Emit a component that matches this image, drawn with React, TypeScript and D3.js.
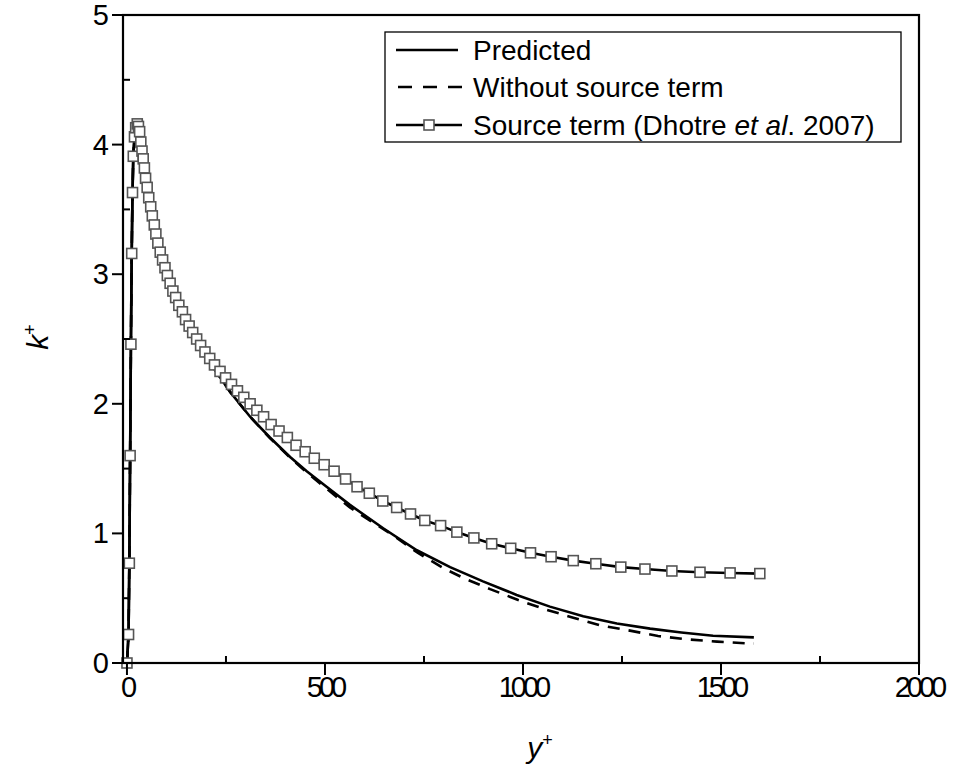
import React from "react";
import * as d3 from "d3";

// ---- data ----
const predX = [0, 4, 6, 8, 10, 12, 14, 16, 19, 22, 26, 30, 40, 60, 80, 100, 130, 160, 200, 261, 311, 361, 412, 454, 500, 563, 647, 732, 816, 899, 984, 1068, 1152, 1237, 1321, 1400, 1480, 1583];
const predY = [0, 0.22, 0.77, 1.6, 2.46, 3.16, 3.63, 3.91, 4.06, 4.13, 4.16, 4.12, 3.92, 3.52, 3.19, 2.99, 2.75, 2.56, 2.36, 2.09, 1.9, 1.74, 1.59, 1.48, 1.37, 1.22, 1.04, 0.87, 0.74, 0.63, 0.525, 0.435, 0.36, 0.305, 0.265, 0.235, 0.21, 0.198];

const noSrcX = [0, 4, 6, 8, 10, 12, 14, 16, 19, 22, 26, 30, 40, 60, 80, 100, 130, 160, 200, 261, 311, 361, 412, 454, 500, 563, 613, 672, 732, 800, 854, 917, 988, 1060, 1127, 1195, 1270, 1341, 1414, 1490, 1562, 1583];
const noSrcY = [0, 0.22, 0.77, 1.6, 2.46, 3.16, 3.63, 3.91, 4.06, 4.13, 4.16, 4.12, 3.92, 3.52, 3.19, 2.99, 2.75, 2.56, 2.36, 2.09, 1.9, 1.735, 1.585, 1.47, 1.355, 1.2, 1.1, 0.985, 0.855, 0.73, 0.65, 0.57, 0.486, 0.41, 0.35, 0.29, 0.25, 0.208, 0.183, 0.165, 0.152, 0.15];

const srcX = [0, 4, 6, 8, 10, 12, 14, 16, 19, 22, 26, 29, 32, 35, 38, 41, 44, 47, 51, 55, 60, 64, 69, 73, 78, 84, 90, 96, 102, 109, 116, 123, 131, 140, 148, 157, 166, 176, 186, 197, 209, 221, 235, 249, 264, 279, 295, 311, 328, 345, 364, 384, 405, 427, 450, 473, 498, 523, 552, 581, 612, 646, 681, 716, 752, 792, 833, 876, 921, 969, 1019, 1071, 1127, 1184, 1247, 1308, 1376, 1447, 1523, 1598];
const srcY = [0, 0.22, 0.77, 1.6, 2.46, 3.16, 3.63, 3.91, 4.06, 4.13, 4.16, 4.14, 4.1, 4.02, 3.95, 3.89, 3.82, 3.74, 3.67, 3.59, 3.52, 3.45, 3.38, 3.31, 3.24, 3.17, 3.11, 3.05, 2.99, 2.93, 2.87, 2.82, 2.76, 2.71, 2.65, 2.6, 2.55, 2.5, 2.45, 2.4, 2.35, 2.3, 2.25, 2.2, 2.15, 2.1, 2.05, 2.0, 1.95, 1.9, 1.84, 1.79, 1.74, 1.68, 1.63, 1.58, 1.53, 1.48, 1.42, 1.36, 1.31, 1.25, 1.2, 1.15, 1.1, 1.06, 1.01, 0.965, 0.92, 0.885, 0.85, 0.82, 0.79, 0.766, 0.74, 0.725, 0.71, 0.7, 0.695, 0.69];

const xTicks = [0, 500, 1000, 1500, 2000];
const xMinor = [250, 750, 1250, 1750];
const yTicks = [0, 1, 2, 3, 4, 5];
const yMinor = [0.5, 1.5, 2.5, 3.5, 4.5];
const legendLabels = ["Predicted", "Without source term", "Source term (Dhotre "];

export default function App() {
  const W = 956, H = 771;
  const left = 123, right = 919, top = 15, bottom = 663;
  const x = d3.scaleLinear().domain([-10, 2000]).range([left, right]);
  const y = d3.scaleLinear().domain([0, 5]).range([bottom, top]);
  const line = d3.line<[number, number]>().x(d => x(d[0])).y(d => y(d[1]));
  const pred = predX.map((v, i) => [v, predY[i]] as [number, number]);
  const noSrc = noSrcX.map((v, i) => [v, noSrcY[i]] as [number, number]);
  const src = srcX.map((v, i) => [v, srcY[i]] as [number, number]);
  const sq = 10;
  const font = "Arial, 'Liberation Sans', sans-serif";
  const lgX = 385, lgY = 32, lgW = 516, lgH = 110;
  const rows = [50, 87, 125];
  return (
    <svg width={W} height={H} style={{ position: "absolute", left: 0, top: 0, background: "#fff" }} fontFamily={font}>
      <rect x={0} y={0} width={W} height={H} fill="#fff" />
      {/* curves */}
      <path d={line(noSrc) || ""} fill="none" stroke="#000" strokeWidth={2.6} strokeDasharray="12,9" />
      <path d={line(pred) || ""} fill="none" stroke="#000" strokeWidth={2.6} />
      <path d={line(src) || ""} fill="none" stroke="#000" strokeWidth={2.6} />
      {src.map((d, i) => (
        <rect key={i} x={x(d[0]) - sq / 2} y={y(d[1]) - sq / 2} width={sq} height={sq} fill="#fff" stroke="#555" strokeWidth={1.6} />
      ))}
      {/* frame */}
      <rect x={left} y={top} width={right - left} height={bottom - top} fill="none" stroke="#000" strokeWidth={2.2} />
      {/* x ticks */}
      {xTicks.map(t => (
        <g key={t}>
          <line x1={x(t)} x2={x(t)} y1={bottom} y2={bottom + 12} stroke="#000" strokeWidth={2} />
          <text x={x(t)} y={697} textAnchor="middle" fontSize={29} letterSpacing={-4}>{t}</text>
        </g>
      ))}
      {xMinor.map(t => (
        <line key={t} x1={x(t)} x2={x(t)} y1={bottom} y2={bottom - 7} stroke="#000" strokeWidth={2} />
      ))}
      {yTicks.map(t => (
        <g key={t}>
          <line x1={left} x2={left - 11} y1={y(t)} y2={y(t)} stroke="#000" strokeWidth={2} />
          <text x={left - 14} y={y(t) + 10} textAnchor="end" fontSize={29}>{t}</text>
        </g>
      ))}
      {yMinor.map(t => (
        <line key={t} x1={left} x2={left + 7} y1={y(t)} y2={y(t)} stroke="#000" strokeWidth={2} />
      ))}
      {/* axis titles */}
      <text x={540} y={758} textAnchor="middle" fontSize={30} fontStyle="italic">
        y<tspan dy={-12} fontSize={18} fontStyle="normal">+</tspan>
      </text>
      <text transform="translate(48,337) rotate(-90)" textAnchor="middle" fontSize={30} fontStyle="italic">
        k<tspan dy={-12} fontSize={18} fontStyle="normal">+</tspan>
      </text>
      {/* legend */}
      <rect x={lgX} y={lgY} width={lgW} height={lgH} fill="#fff" stroke="#000" strokeWidth={1.3} />
      <line x1={396} x2={458} y1={rows[0]} y2={rows[0]} stroke="#000" strokeWidth={2.6} />
      <line x1={398} x2={462} y1={rows[1]} y2={rows[1]} stroke="#000" strokeWidth={2.6} strokeDasharray="14,11" />
      <line x1={396} x2={462} y1={rows[2]} y2={rows[2]} stroke="#000" strokeWidth={2.6} />
      <rect x={429 - 5} y={rows[2] - 5} width={10} height={10} fill="#fff" stroke="#555" strokeWidth={1.6} />
      {legendLabels.map((l, i) => (
        <text key={i} x={473} y={rows[i] + 10} fontSize={28}>
          {l}
          {i === 2 ? <><tspan fontStyle="italic">et al</tspan>. 2007)</> : null}
        </text>
      ))}
    </svg>
  );
}
